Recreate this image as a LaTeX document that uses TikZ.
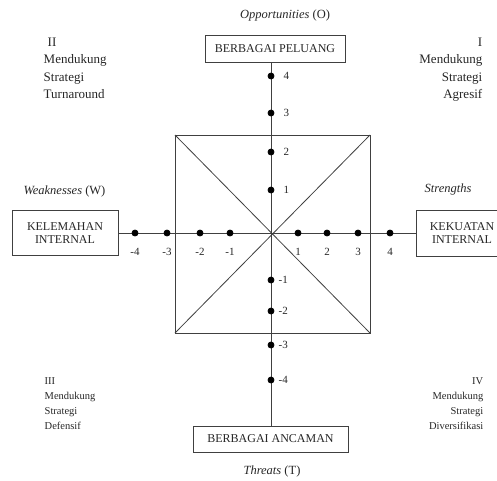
\documentclass[tikz,border=0pt]{standalone}
\usepackage{fontspec}
\setmainfont{Liberation Serif}
\usetikzlibrary{positioning}

\begin{document}
\begin{tikzpicture}[x=1pt,y=1pt,line width=0.8pt,
	garis/.style={draw=black!75},
	kotak/.style={draw=black!75, align=center, inner sep=2pt, text=black!85, font=\fontsize{12}{13.5}\selectfont},
	judul/.style={text=black!85, font=\fontsize{12.5}{14}\selectfont},
	kuadran/.style={text=black!85, font=\fontsize{13}{17.5}\selectfont},
	kuadrankecil/.style={text=black!85, font=\fontsize{10.5}{15}\selectfont},
	angka/.style={text=black!85, font=\fontsize{11}{13}\selectfont}
]
	\useasboundingbox (-271,-247) rectangle (226,233);

	\coordinate (O) at (0,0);

	% kotak di ujung sumbu
	\node[kotak, minimum width=140, minimum height=27] (peluang) at (4,184.5) {BERBAGAI PELUANG};
	\node[kotak, minimum width=155, minimum height=26] (ancaman) at (-0.5,-206) {BERBAGAI ANCAMAN};
	\node[kotak, minimum width=106, minimum height=45] (kelemahan) at (-206,0) {KELEMAHAN\\INTERNAL};
	\node[kotak, minimum width=92, minimum height=46] (kekuatan) at (191,0) {KEKUATAN\\INTERNAL};

	\node[judul] (opportunities) at (14,218) {\textit{Opportunities} (O)};
	\node[judul] (threats) at (1,-238) {\textit{Threats} (T)};
	\node[judul] (weaknesses) at (-206.5,42) {\textit{Weaknesses} (W)};
	\node[judul] (strengths) at (177,44) {\textit{Strengths}};

	% sumbu
	\draw[garis] (O |- peluang.south) -- (O |- ancaman.north);
	\draw[garis] (kelemahan) -- (kekuatan);

	% persegi dan diagonal
	\draw[garis] (-96,98) rectangle (99,-100);
	\draw[garis] (-96,98) -- (99,-100);
	\draw[garis] (-96,-100) -- (99,98);

	% titik pada sumbu
	\foreach \n/\p in {-4/-136,-3/-104,-2/-71,-1/-41,1/27,2/56,3/87,4/119}
		\filldraw (\p,0) circle(3pt) node[angka] at (\p,-19) {\n};
	\foreach \n/\p in {4/157,3/120,2/81,1/43}
		\filldraw (0,\p) circle(3pt) node[angka, right=9pt] {\n};
	\foreach \n/\p in {-1/-47,-2/-78,-3/-112,-4/-147}
		\filldraw (0,\p) circle(3pt) node[angka, right=4pt] {\n};

	% keterangan kuadran
	\node[kuadran, anchor=north west, align=left] (kuadranII) at (-231,199) {\hspace*{4pt}II\\Mendukung\\Strategi\\Turnaround};
	\node[kuadran, anchor=north east, align=right] (kuadranI) at (215,199) {I\\Mendukung\\Strategi\\Agresif};
	\node[kuadrankecil, anchor=north west, align=left] (kuadranIII) at (-230,-141) {III\\Mendukung\\Strategi\\Defensif};
	\node[kuadrankecil, anchor=north east, align=right] (kuadranIV) at (216,-141) {IV\\Mendukung\\Strategi\\Diversifikasi};
\end{tikzpicture}
\end{document}
